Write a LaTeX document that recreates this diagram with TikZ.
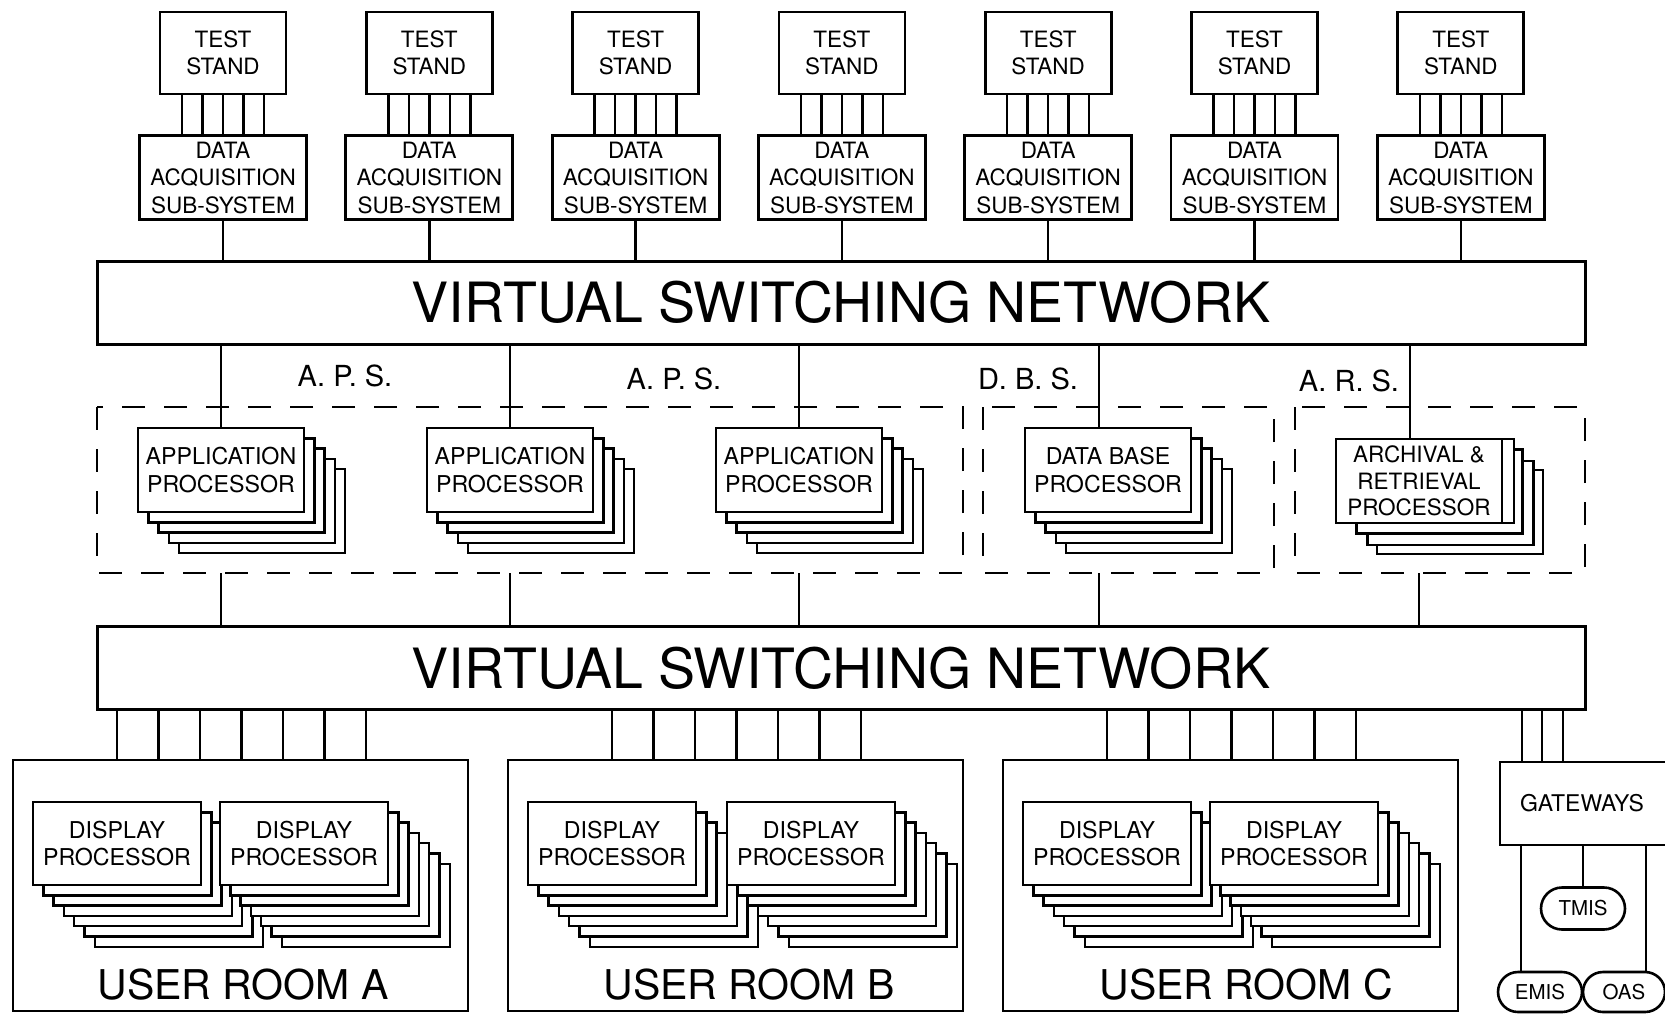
\documentclass[tikz,border=0pt]{standalone}
\usepackage{fontspec}
\setmainfont{TeX Gyre Heros}
\usetikzlibrary{shapes.misc}
\tikzset{every node/.append style={font=\rmfamily},
  unitbox/.style={draw,fill=white,line width=2.8pt,inner sep=0pt,outer sep=0pt,align=center,font=\fontsize{22.5}{27.5}\selectfont},
  stand/.style={unitbox,minimum width=126pt,minimum height=82pt},
  daq/.style={unitbox,minimum width=167pt,minimum height=84pt},
  proc/.style={unitbox,line width=2.6pt,anchor=north west,minimum width=166pt,minimum height=84pt,font=\fontsize{23.2}{27.5}\selectfont},
  sheet/.style={draw,fill=white,line width=2.4pt},
  vsn/.style={unitbox,line width=3pt,minimum width=1488pt,minimum height=83pt,font=\fontsize{55.5}{60}\selectfont},
  grpline/.style={line width=2.6pt,dash pattern=on 23pt off 19pt},
  room/.style={draw,line width=2.8pt,anchor=north west,minimum width=455pt,minimum height=251pt,inner sep=0pt,outer sep=0pt},
  roomlbl/.style={font=\fontsize{41}{48}\selectfont,inner sep=0pt},
  grplbl/.style={font=\fontsize{29}{34}\selectfont,inner sep=0pt},
  endpt/.style={rounded rectangle,draw,fill=white,line width=2.6pt,minimum width=84pt,minimum height=42pt,inner sep=0pt,font=\fontsize{20.5}{24}\selectfont}}

\begin{document}
\begin{tikzpicture}[x=1pt,y=-1pt,line width=2.5pt]
\useasboundingbox (0,0) rectangle (1665,1013);
\clip (0,0) rectangle (1665,1013);
% switching networks
\node[vsn] (vsnA) at (841,302.5) {VIRTUAL SWITCHING NETWORK};
\node[vsn] (vsnB) at (841,668) {VIRTUAL SWITCHING NETWORK};
% test stands with their acquisition sub-systems
\foreach \i in {0,...,6}{
  \pgfmathsetmacro\cx{223+206.3*\i}
  \node[stand] (ts\i) at (\cx,53) {TEST\\STAND};
  \node[daq] (daq\i) at (\cx,177.5) {DATA\\ACQUISITION\\SUB-SYSTEM};
  \foreach \d in {-41,-20.5,0,20.5,41}
    \draw ({\cx+\d},0 |- ts\i.south) -- ({\cx+\d},0 |- daq\i.north);
  \draw (daq\i.south) -- (daq\i.south |- vsnA.north);
}
% processor groups
\coordinate (grpS) at (0,573);
\draw[grpline] (97,407) rectangle (963,573);
\draw[grpline] (983,407) rectangle (1274,573);
\draw[grpline] (1295,407) rectangle (1585,573);
\node[grplbl] (lblA) at (345,376) {A. P. S.};
\node[grplbl] (lblB) at (674,379) {A. P. S.};
\node[grplbl] (lblC) at (1028,379) {D. B. S.};
\node[grplbl] (lblD) at (1349,381) {A. R. S.};
\foreach \nm/\px/\txt in {apA/138/APPLICATION,apB/427/APPLICATION,apC/716/APPLICATION,dbp/1025/DATA BASE}{
  \foreach \k in {4,3,2,1}
    \draw[sheet] ({\px+10.3*\k},{428+10.3*\k}) rectangle ++(166,84);
  \node[proc] (\nm) at (\px,428) {\txt\\PROCESSOR};
}
\foreach \ox/\oy in {41/31,31.5/22,20.5/10.5,12/0}
  \draw[sheet] ({1336+\ox},{439+\oy}) rectangle ++(166,84);
\node[proc,font=\fontsize{22.5}{26.5}\selectfont] (arp) at (1336,439) {ARCHIVAL \&\\RETRIEVAL\\PROCESSOR};
\foreach \p in {apA,apB,apC}{
  \draw (\p.north) -- (\p.north |- vsnA.south);
  \draw (\p.south |- grpS) -- (\p.south |- vsnB.north);
}
\draw (1099,0 |- dbp.north) -- (1099,0 |- vsnA.south);
\draw (1099,0 |- grpS) -- (1099,0 |- vsnB.north);
\draw (1410,0 |- arp.north) -- (1410,0 |- vsnA.south);
\draw (arp.south |- grpS) -- (arp.south |- vsnB.north);
% user rooms
\foreach \r/\rx/\ax/\bx/\tx in {A/13/33/220/243,B/508/528/727/749,C/1003/1023/1210/1246}{
  \node[room] (room\r) at (\rx,760) {};
  \foreach \k in {0,...,6}
    \draw ({\rx+104+41.5*\k},0 |- vsnB.south) -- ({\rx+104+41.5*\k},0 |- room\r.north);
  \foreach \sx [count=\j] in {\ax,\bx}{
    \foreach \k in {6,...,1}
      \draw[sheet] ({\sx+10.3*\k},{802+10.3*\k}) rectangle ++(168,83);
    \node[proc,minimum width=168pt,minimum height=83pt] (dp\r\j) at (\sx,802) {DISPLAY\\PROCESSOR};
  }
  \node[roomlbl] (lbl\r) at (\tx,985) {USER ROOM \r};
}
% gateways
\node[unitbox,anchor=north west,minimum width=172pt,minimum height=83pt,font=\fontsize{23}{27}\selectfont] (gw) at (1500,762) {GATEWAYS\hspace*{8pt}};
\foreach \d in {1522,1542,1563}
  \draw (\d,0 |- vsnB.south) -- (\d,0 |- gw.north);
\node[endpt] (tmis) at (1583,908.5) {TMIS};
\node[endpt,minimum height=40pt] (emis) at (1540,992) {EMIS};
\node[endpt,minimum height=40pt,minimum width=82pt] (oas) at (1624,992) {OAS};
\draw (tmis.north) -- (tmis.north |- gw.south);
\draw (1521,0 |- gw.south) -- (1521,0 |- emis.north);
\draw (1646,0 |- gw.south) -- (1646,0 |- oas.north);
\end{tikzpicture}
\end{document}
